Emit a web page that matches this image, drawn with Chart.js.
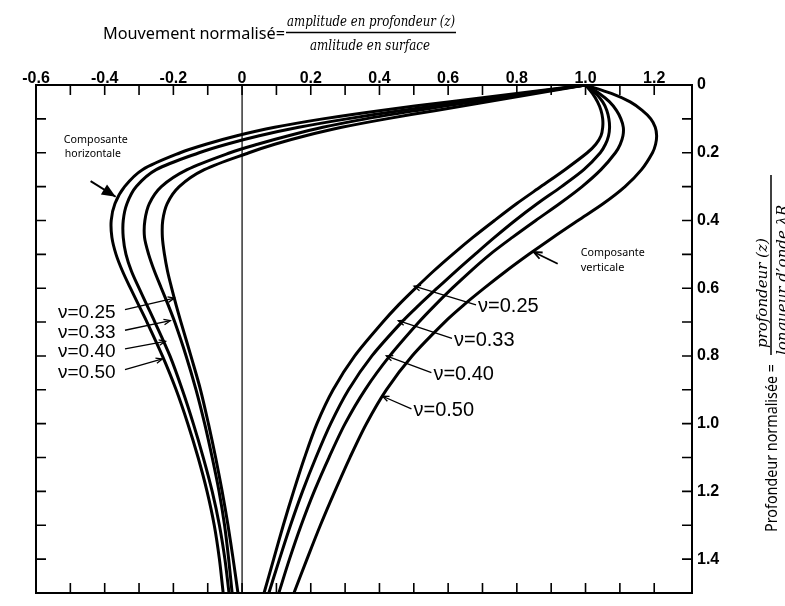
<!DOCTYPE html>
<html>
<head>
<meta charset="utf-8">
<script src="https://cdn.jsdelivr.net/npm/chart.js@4.4.1/dist/chart.umd.min.js"></script>
<style>
  html, body { margin: 0; padding: 0; background: #fff; }
  .wrap { position: relative; width: 785px; height: 606px; }
</style>
</head>
<body>
<div class="wrap"><canvas id="chart"></canvas></div>
<script>
// profondeur normalisée z / λR (grille commune à toutes les courbes)
const depth = [0, 0.025, 0.05, 0.075, 0.1, 0.125, 0.15, 0.175, 0.2, 0.25, 0.3, 0.35, 0.4, 0.45,
               0.5, 0.55, 0.6, 0.65, 0.7, 0.8, 0.9, 1.0, 1.1, 1.2, 1.3, 1.4, 1.5];

// coefficient de Poisson
const poisson = ["0.25", "0.33", "0.40", "0.50"];

// composante horizontale (amplitude normalisée)
const horiz025 = [1.0, 0.855, 0.71, 0.565, 0.42, 0.29, 0.185, 0.095, 0.02, -0.11, -0.183, -0.218, -0.231, -0.232,
                  -0.226, -0.217, -0.205, -0.192, -0.178, -0.149, -0.121, -0.098, -0.077, -0.058, -0.041, -0.026, -0.012];
const horiz033 = [1.0, 0.835, 0.67, 0.51, 0.36, 0.235, 0.135, 0.045, -0.035, -0.16, -0.235, -0.27, -0.283, -0.284,
                  -0.272, -0.255, -0.235, -0.215, -0.196, -0.163, -0.134, -0.109, -0.087, -0.067, -0.051, -0.039, -0.029];
const horiz040 = [1.0, 0.82, 0.64, 0.465, 0.305, 0.165, 0.05, -0.045, -0.125, -0.25, -0.308, -0.335, -0.346, -0.346,
                  -0.338, -0.322, -0.30, -0.277, -0.254, -0.21, -0.174, -0.142, -0.113, -0.087, -0.066, -0.05, -0.038];
const horiz050 = [1.0, 0.80, 0.60, 0.405, 0.235, 0.095, -0.015, -0.105, -0.18, -0.29, -0.342, -0.370, -0.381, -0.379,
                  -0.367, -0.348, -0.325, -0.301, -0.277, -0.232, -0.192, -0.158, -0.128, -0.102, -0.081, -0.066, -0.055];

// composante verticale
const vert025 = [1.0, 1.02, 1.035, 1.045, 1.05, 1.05, 1.045, 1.03, 1.005, 0.94, 0.87, 0.80, 0.735, 0.672,
                 0.613, 0.557, 0.505, 0.455, 0.41, 0.328, 0.265, 0.218, 0.182, 0.15, 0.12, 0.092, 0.064];
const vert033 = [1.0, 1.03, 1.05, 1.062, 1.068, 1.07, 1.067, 1.058, 1.043, 0.995, 0.93, 0.86, 0.795, 0.735,
                 0.678, 0.622, 0.568, 0.515, 0.465, 0.378, 0.31, 0.258, 0.215, 0.176, 0.141, 0.109, 0.078];
const vert040 = [1.0, 1.04, 1.07, 1.09, 1.103, 1.11, 1.109, 1.101, 1.087, 1.045, 0.99, 0.925, 0.855, 0.787,
                 0.722, 0.665, 0.612, 0.562, 0.515, 0.43, 0.358, 0.30, 0.253, 0.21, 0.172, 0.138, 0.107];
const vert050 = [1.0, 1.075, 1.13, 1.165, 1.19, 1.203, 1.207, 1.204, 1.195, 1.163, 1.115, 1.052, 0.978, 0.905,
                 0.835, 0.768, 0.705, 0.645, 0.59, 0.495, 0.42, 0.362, 0.314, 0.27, 0.228, 0.189, 0.151];

// graduations
const xTicks = [-0.6, -0.4, -0.2, 0, 0.2, 0.4, 0.6, 0.8, 1.0, 1.2];
const yTicks = [0, 0.2, 0.4, 0.6, 0.8, 1.0, 1.2, 1.4];

const curves = [horiz025, horiz033, horiz040, horiz050, vert025, vert033, vert040, vert050];

const datasets = curves.map(vals => ({
    data: depth.map((d, i) => ({ x: vals[i], y: d })),
    showLine: true,
    borderColor: "#000",
    borderWidth: 3,
    pointRadius: 0,
    tension: 0.3,
    fill: false,
}));

// étiquettes nu=... (unités du graphe : [x texte, y texte, x flèche, y flèche])
const leftLabels = [[-0.536, 0.672, -0.197, 0.629], [-0.536, 0.733, -0.209, 0.696],
                    [-0.536, 0.788, -0.223, 0.757], [-0.536, 0.849, -0.232, 0.809]];
const rightLabels = [[0.687, 0.655, 0.501, 0.594], [0.617, 0.754, 0.455, 0.696],
                     [0.557, 0.855, 0.42, 0.8], [0.499, 0.962, 0.409, 0.919]];

function arrow(ctx, x1, y1, x2, y2, size, filled) {
    const a = Math.atan2(y2 - y1, x2 - x1);
    ctx.beginPath();
    ctx.moveTo(x1, y1);
    ctx.lineTo(x2, y2);
    ctx.stroke();
    ctx.beginPath();
    ctx.moveTo(x2 - size * Math.cos(a - 0.4), y2 - size * Math.sin(a - 0.4));
    ctx.lineTo(x2, y2);
    ctx.lineTo(x2 - size * Math.cos(a + 0.4), y2 - size * Math.sin(a + 0.4));
    if (filled) { ctx.closePath(); ctx.fill(); } else ctx.stroke();
}

const decor = {
    id: "decor",
    beforeDatasetsDraw(chart) {
        const { ctx, chartArea: a, scales: { x } } = chart;
        ctx.save();
        ctx.strokeStyle = "#000";
        ctx.lineWidth = 1.2;
        ctx.beginPath();
        ctx.moveTo(x.getPixelForValue(0), a.top);
        ctx.lineTo(x.getPixelForValue(0), a.bottom);
        ctx.stroke();
        ctx.restore();
    },
    afterDatasetsDraw(chart) {
        const { ctx, chartArea: a, scales: { x, y } } = chart;
        ctx.save();
        ctx.strokeStyle = "#000";
        ctx.fillStyle = "#000";

        // cadre + graduations intérieures tous les 0.1
        ctx.lineWidth = 2;
        ctx.strokeRect(a.left, a.top, a.right - a.left, a.bottom - a.top);
        ctx.lineWidth = 1.6;
        ctx.beginPath();
        for (let i = -5; i <= 12; i++) {
            const px = x.getPixelForValue(i / 10);
            ctx.moveTo(px, a.top); ctx.lineTo(px, a.top + 10);
            ctx.moveTo(px, a.bottom); ctx.lineTo(px, a.bottom - 10);
        }
        for (let i = 1; i <= 14; i++) {
            const py = y.getPixelForValue(i / 10);
            ctx.moveTo(a.left, py); ctx.lineTo(a.left + 10, py);
            ctx.moveTo(a.right, py); ctx.lineTo(a.right - 10, py);
        }
        ctx.stroke();

        // nu = ...
        ctx.lineWidth = 1.3;
        ctx.textBaseline = "middle";
        ctx.font = "19px 'Liberation Sans'";
        leftLabels.forEach((p, i) => {
            const tx = x.getPixelForValue(p[0]), ty = y.getPixelForValue(p[1]);
            ctx.fillText("\u03bd=" + poisson[i], tx, ty, 64);
            arrow(ctx, tx + 67, ty - 3, x.getPixelForValue(p[2]), y.getPixelForValue(p[3]), 7, false);
        });
        ctx.font = "20px 'Liberation Sans'";
        rightLabels.forEach((p, i) => {
            const tx = x.getPixelForValue(p[0]), ty = y.getPixelForValue(p[1]);
            ctx.fillText("\u03bd=" + poisson[i], tx, ty, 70);
            arrow(ctx, tx - 2, ty - 2, x.getPixelForValue(p[2]), y.getPixelForValue(p[3]), 7, false);
        });

        // composantes
        ctx.font = "11px 'Noto Sans'";
        ctx.textBaseline = "alphabetic";
        ctx.fillText("Composante", x.getPixelForValue(-0.519), y.getPixelForValue(0.17), 64);
        ctx.fillText("horizontale", x.getPixelForValue(-0.516), y.getPixelForValue(0.213), 56);
        ctx.fillText("Composante", x.getPixelForValue(0.986), y.getPixelForValue(0.506), 64);
        ctx.fillText("verticale", x.getPixelForValue(0.986), y.getPixelForValue(0.55), 44);
        ctx.lineWidth = 2;
        arrow(ctx, x.getPixelForValue(-0.441), y.getPixelForValue(0.284),
              x.getPixelForValue(-0.368), y.getPixelForValue(0.33), 15, true);
        ctx.lineWidth = 1.8;
        arrow(ctx, x.getPixelForValue(0.919), y.getPixelForValue(0.528),
              x.getPixelForValue(0.849), y.getPixelForValue(0.493), 9, false);

        // titre du haut
        ctx.font = "17px 'Noto Sans'";
        ctx.textAlign = "left";
        ctx.fillText("Mouvement normalisé=", 103, 39, 182);
        ctx.font = "italic 14px 'DejaVu Serif'";
        ctx.textAlign = "center";
        ctx.fillText("amplitude en profondeur (z)", 371, 26, 168);
        ctx.fillText("amlitude en surface", 370, 50, 120);
        ctx.lineWidth = 1.5;
        ctx.beginPath();
        ctx.moveTo(286, 32.5); ctx.lineTo(456, 32.5);
        ctx.stroke();

        // titre de droite (vertical)
        ctx.textAlign = "left";
        ctx.save();
        ctx.translate(777, 532);
        ctx.rotate(-Math.PI / 2);
        ctx.font = "17px 'Noto Sans'";
        ctx.fillText("Profondeur normalisée =", 0, 0, 168);
        ctx.restore();
        ctx.save();
        ctx.translate(767, 348);
        ctx.rotate(-Math.PI / 2);
        ctx.font = "italic 15px 'DejaVu Serif'";
        ctx.fillText("profondeur (z)", 0, 0, 114);
        ctx.restore();
        ctx.save();
        ctx.translate(787, 355);
        ctx.rotate(-Math.PI / 2);
        ctx.font = "italic 15px 'DejaVu Serif'";
        ctx.fillText("longueur d\u2019onde \u03bbR", 0, 0, 182);
        ctx.restore();
        ctx.beginPath();
        ctx.moveTo(771, 355); ctx.lineTo(771, 175);
        ctx.stroke();
        ctx.restore();
    }
};

const fmt = v => (v === 0 ? "0" : v.toFixed(1));

new Chart(document.getElementById("chart"), {
    type: "scatter",
    data: { datasets },
    options: {
        responsive: true,
        maintainAspectRatio: false,
        animation: false,
        layout: { padding: { left: 36, right: 0, top: 0, bottom: 3 } },
        plugins: { legend: { display: false }, tooltip: { enabled: false } },
        scales: {
            x: {
                type: "linear",
                position: "top",
                min: -0.6,
                max: 1.31,
                afterFit: s => { s.height = 85; },
                afterBuildTicks: s => { s.ticks = xTicks.map(v => ({ value: v })); },
                grid: { display: false, drawTicks: false },
                border: { display: false },
                ticks: {
                    autoSkip: false, maxRotation: 0, padding: -2, color: "#000",
                    font: { family: "'Liberation Sans'", size: 16, weight: "bold", lineHeight: 1 },
                    callback: fmt,
                },
            },
            y: {
                type: "linear",
                position: "right",
                reverse: true,
                min: 0,
                max: 1.5,
                afterFit: s => { s.width = 93; },
                afterBuildTicks: s => { s.ticks = yTicks.map(v => ({ value: v })); },
                grid: { display: false, drawTicks: false },
                border: { display: false },
                ticks: {
                    autoSkip: false, padding: 5, color: "#000",
                    font: { family: "'Liberation Sans'", size: 16, weight: "bold", lineHeight: 1 },
                    callback: fmt,
                },
            },
        },
    },
    plugins: [decor],
});
</script>
</body>
</html>
